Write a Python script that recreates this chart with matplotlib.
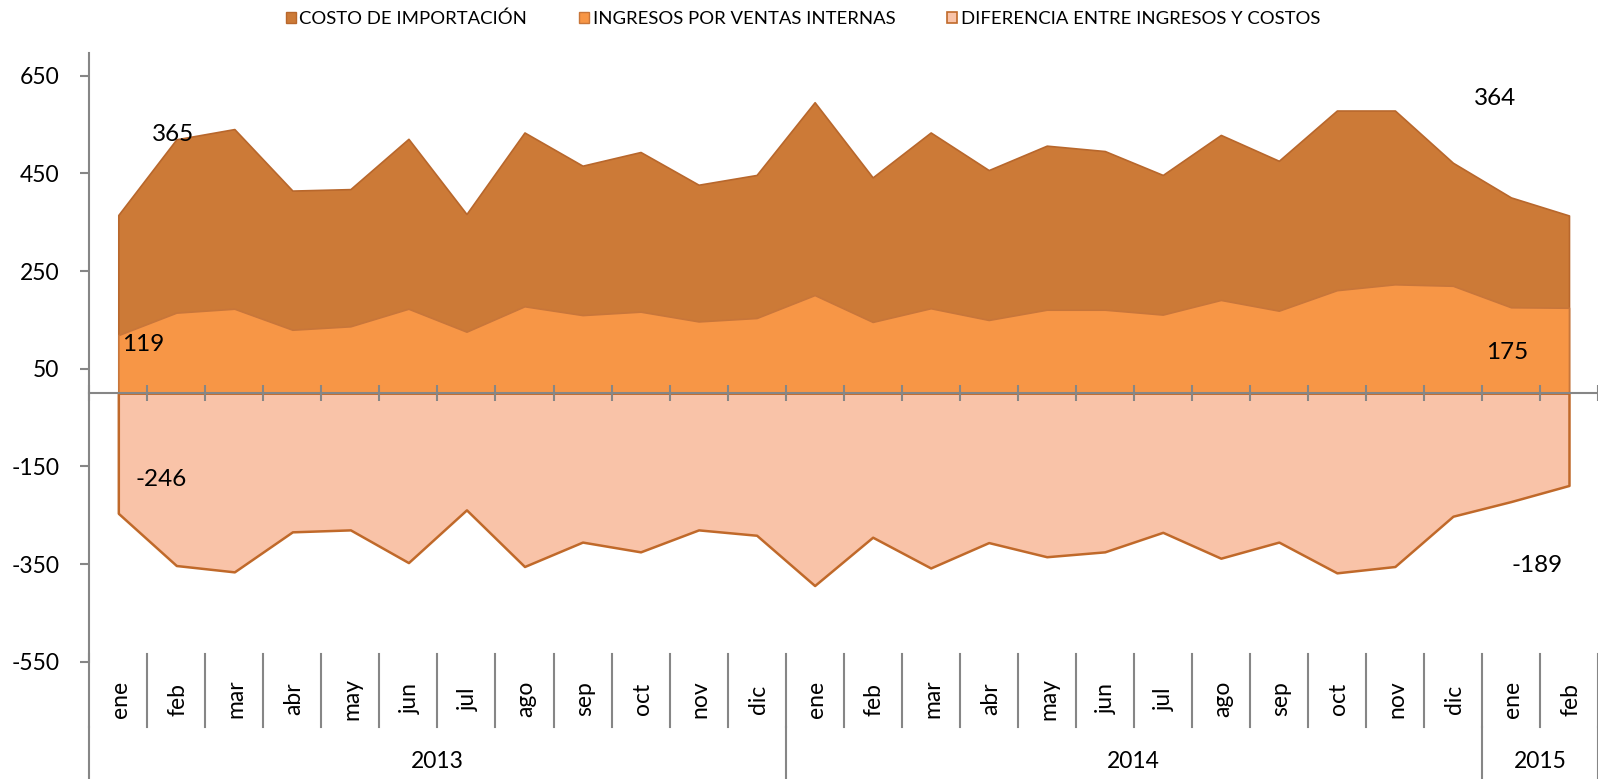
import numpy as np
import matplotlib.pyplot as plt
import matplotlib.transforms as mtransforms
from matplotlib.patches import Patch

plt.rcParams['font.family'] = ['Lato', 'DejaVu Sans']
plt.rcParams['axes.unicode_minus'] = False

# datos (millones), ene 2013 - feb 2015
meses = ['ene', 'feb', 'mar', 'abr', 'may', 'jun', 'jul', 'ago', 'sep', 'oct', 'nov', 'dic'] * 2 + ['ene', 'feb']
anios = ['2013', '2014', '2015']
meses_por_anio = [12, 12, 2]

costo = [365, 520, 541, 415, 418, 521, 367, 534, 466, 494, 427, 447, 596,
         442, 534, 457, 507, 496, 447, 529, 476, 579, 579, 472, 401, 364]
ingresos = [119, 165, 173, 130, 137, 173, 126, 178, 160, 167, 147, 154, 201,
            146, 174, 150, 171, 171, 161, 191, 169, 211, 223, 220, 176, 175]
diferencia = [-246, -353, -366, -284, -280, -347, -239, -355, -305, -325, -280, -291, -394,
              -295, -358, -306, -335, -325, -285, -338, -305, -368, -355, -252, -222, -189]

y_ticks = [650, 450, 250, 50, -150, -350, -550]

# colores
c_costo, e_costo = '#CC7A37', '#B8672C'
c_ing, e_ing = '#F79646', '#C8763A'
c_dif, e_dif = '#F9C3A8', '#C0692A'
gris = '#868686'

W, H = 1598, 779
fig = plt.figure(figsize=(W / 100, H / 100), dpi=100)
ax = fig.add_axes([89.3 / W, 1 - 661.7 / H, 1 - 89.3 / W, (661.7 - 53) / H])

x = np.arange(len(meses))
ax.fill_between(x, 0, costo, facecolor=c_costo, edgecolor=e_costo, linewidth=1.2, zorder=1)
ax.fill_between(x, 0, ingresos, facecolor=c_ing, edgecolor=e_ing, linewidth=1.2, zorder=1.1)
ax.fill_between(x, 0, diferencia, facecolor=c_dif, edgecolor=e_dif, linewidth=1.8, zorder=1.2)

ax.set_xlim(-0.5, len(meses) - 0.5)
ax.set_ylim(-550, 696.8)

# ejes
for s in ['top', 'right']:
    ax.spines[s].set_visible(False)
ax.spines['left'].set_color(gris)
ax.spines['left'].set_linewidth(1.5)
ax.spines['bottom'].set_position(('data', 0))
ax.spines['bottom'].set_color(gris)
ax.spines['bottom'].set_linewidth(1.5)
for s in ax.spines.values():
    s.set_zorder(3)

ax.set_yticks(y_ticks)
ax.tick_params(axis='y', direction='out', length=6.5, width=1.5, color=gris,
               labelsize=16.5, pad=15, labelcolor='black')
ax.set_xticks(np.arange(-0.5, len(meses), 1))
ax.tick_params(axis='x', direction='inout', length=11.5, width=1.5, color=gris,
               labelbottom=False)

# etiquetas de categoria en dos niveles
trans = mtransforms.blended_transform_factory(ax.transData, fig.transFigure)
for i, m in enumerate(meses):
    ax.text(i + 0.03, 1 - 699 / H, m, transform=trans, rotation=90, ha='center', va='center',
            fontsize=16.5, clip_on=False)
for b in np.arange(-0.5, len(meses), 1):
    ax.plot([b, b], [1 - 654 / H, 1 - 727 / H], transform=trans, color=gris, lw=1.5, clip_on=False)

inicio = -0.5
ax.plot([inicio, inicio], [1 - 727 / H, 0], transform=trans, color=gris, lw=1.5, clip_on=False)
for anio, n in zip(anios, meses_por_anio):
    fin = inicio + n
    ax.text((inicio + fin) / 2, 1 - 761 / H, anio, transform=trans, ha='center', va='center',
            fontsize=16.5, clip_on=False)
    ax.plot([fin, fin], [1 - 727 / H, 0], transform=trans, color=gris, lw=1.5, clip_on=False)
    inicio = fin

# etiquetas de datos (primer y ultimo mes)
etiquetas = [
    (0, costo[0], (55, 80)),
    (0, ingresos[0], (25, -9)),
    (0, diferencia[0], (43, 34)),
    (len(meses) - 1, costo[-1], (-74, 117)),
    (len(meses) - 1, ingresos[-1], (-62, -45)),
    (len(meses) - 1, diferencia[-1], (-32, -80)),
]
for i, v, off in etiquetas:
    ax.annotate(str(v), xy=(i, v), xytext=off, textcoords='offset pixels',
                ha='center', va='center', fontsize=17.5, zorder=5)

# leyenda
handles = [Patch(facecolor=c_costo, edgecolor=e_costo, linewidth=1),
           Patch(facecolor=c_ing, edgecolor=e_ing, linewidth=1),
           Patch(facecolor=c_dif, edgecolor=e_dif, linewidth=1.2)]
labels = ['COSTO DE IMPORTACIÓN', 'INGRESOS POR VENTAS INTERNAS', 'DIFERENCIA ENTRE INGRESOS Y COSTOS']
fig.legend(handles, labels, loc='center', bbox_to_anchor=(803 / W, 1 - 19 / H), ncol=3,
           frameon=False, fontsize=13.3, handlelength=0.55, handleheight=0.55,
           handletextpad=0.2, columnspacing=2.8)

fig.savefig('out.png', dpi=100)
